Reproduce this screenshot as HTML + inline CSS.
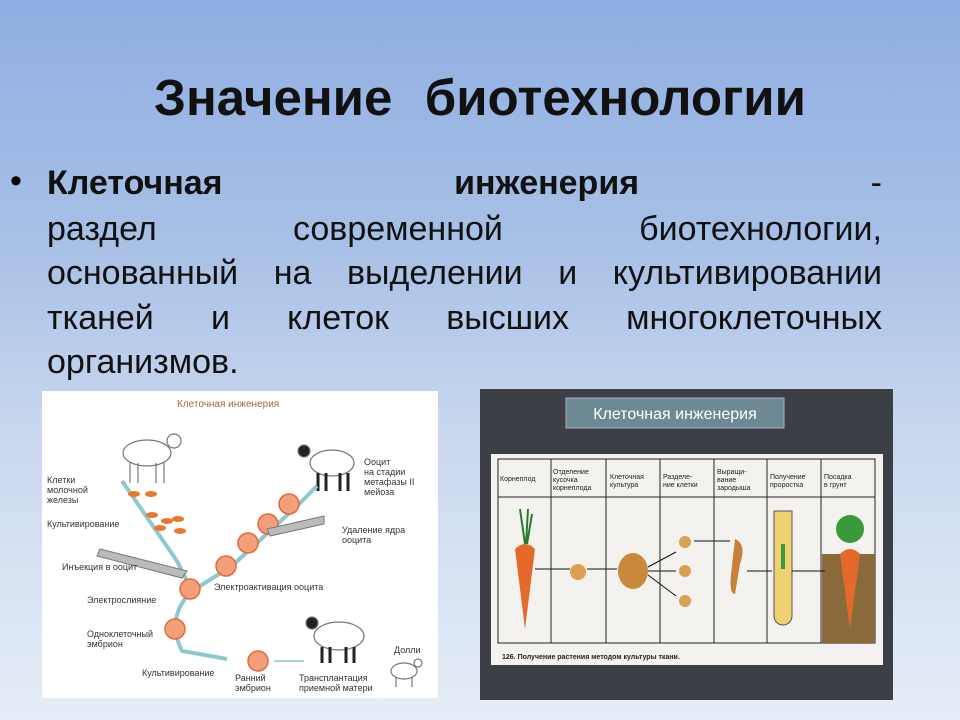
<!DOCTYPE html>
<html><head><meta charset="utf-8"><style>
body{margin:0;width:960px;height:720px;overflow:hidden;position:relative;
background:linear-gradient(180deg,#8eaee2 0%,#a9c1e6 35%,#c9d7ee 60%,#e6edf8 100%);
font-family:"Liberation Sans Narrow","Liberation Sans","DejaVu Sans Condensed",sans-serif;}
.t{position:absolute;left:0;width:960px;top:68px;text-align:center;font-size:51px;font-weight:bold;color:#111;word-spacing:2px}
.l{position:absolute;left:47px;width:835px;font-size:34px;color:#111;white-space:nowrap;line-height:40px}
.b{position:absolute;left:10px;top:162px;font-size:34px}
</style></head><body>
<div class="t">Значение&nbsp; биотехнологии</div>
<div class="b">•</div>
<div class="l" style="top:163px;display:flex;justify-content:space-between"><b>Клеточная</b><b>инженерия</b><span>-</span></div>
<div class="l" style="top:209px;display:flex;justify-content:space-between"><span>раздел</span><span>современной</span><span>биотехнологии,</span></div>
<div class="l" style="top:253px;display:flex;justify-content:space-between"><span>основанный</span><span>на</span><span>выделении</span><span>и</span><span>культивировании</span></div>
<div class="l" style="top:298px;display:flex;justify-content:space-between"><span>тканей</span><span>и</span><span>клеток</span><span>высших</span><span>многоклеточных</span></div>
<div class="l" style="top:342px">организмов.</div>

<svg style="position:absolute;left:42px;top:391px" width="396" height="307" viewBox="0 0 396 307" font-family="Liberation Sans, sans-serif" font-size="9" fill="#333">
<rect width="396" height="307" fill="#fff"/>
<text x="135" y="16" font-size="10" fill="#a06a3a">Клеточная инженерия</text>
<g stroke="#777" fill="#fff" stroke-width="1.2">
<ellipse cx="105" cy="62" rx="24" ry="13"/><circle cx="132" cy="50" r="7"/><path d="M88 72v20M96 72v20M114 72v20M122 72v20"/>
<ellipse cx="290" cy="72" rx="22" ry="13"/><circle cx="262" cy="60" r="6" fill="#222"/><path d="M276 82v18M284 82v18M298 82v18M306 82v18" stroke="#222" stroke-width="3"/>
<ellipse cx="297" cy="245" rx="25" ry="14"/><circle cx="270" cy="232" r="6" fill="#222"/><path d="M280 256v16M288 256v16M304 256v16M312 256v16" stroke="#222" stroke-width="3"/>
<ellipse cx="362" cy="280" rx="13" ry="8"/><circle cx="376" cy="272" r="4"/><path d="M354 286v10M370 286v10"/>
</g>
<path d="M80 90 L135 170 L150 200 L190 175 L255 115 L275 95" stroke="#8cc8d0" stroke-width="4" fill="none"/>
<path d="M145 205 Q125 230 140 260 L185 268" stroke="#8cc8d0" stroke-width="4" fill="none"/>
<path d="M232 270 H262" stroke="#8cc8d0" stroke-width="1.5"/>
<g fill="#f3a07a" stroke="#e06a40" stroke-width="1.5">
<circle cx="148" cy="198" r="10"/><circle cx="184" cy="175" r="10"/><circle cx="206" cy="152" r="10"/><circle cx="226" cy="133" r="10"/><circle cx="247" cy="113" r="10"/><circle cx="133" cy="238" r="10"/><circle cx="216" cy="270" r="10"/>
</g>
<g fill="#e8792c"><ellipse cx="92" cy="103" rx="6" ry="3"/><ellipse cx="109" cy="103" rx="6" ry="3"/><ellipse cx="110" cy="124" rx="6" ry="3"/><ellipse cx="125" cy="130" rx="6" ry="3"/><ellipse cx="118" cy="137" rx="6" ry="3"/><ellipse cx="136" cy="128" rx="6" ry="3"/><ellipse cx="138" cy="140" rx="6" ry="3"/></g>
<path d="M58 158 L145 180 L140 187 L55 165z" fill="#bbb" stroke="#777"/>
<path d="M225 138 L282 125 L282 133 L228 145z" fill="#bbb" stroke="#777"/>
<text x="5" y="92">Клетки</text><text x="5" y="102">молочной</text><text x="5" y="112">железы</text>
<text x="5" y="136">Культивирование</text><text x="20" y="179">Инъекция в ооцит</text>
<text x="45" y="212">Электрослияние</text><text x="172" y="199">Электроактивация ооцита</text>
<text x="45" y="246">Одноклеточный</text><text x="45" y="256">эмбрион</text>
<text x="100" y="285">Культивирование</text><text x="193" y="290">Ранний</text><text x="193" y="300">эмбрион</text>
<text x="257" y="290">Трансплантация</text><text x="257" y="300">приемной матери</text>
<text x="300" y="142">Удаление ядра</text><text x="300" y="152">ооцита</text>
<text x="322" y="74">Ооцит</text><text x="322" y="84">на стадии</text><text x="322" y="94">метафазы II</text><text x="322" y="104">мейоза</text>
<text x="352" y="262">Долли</text>
</svg>

<svg style="position:absolute;left:480px;top:389px" width="413" height="311" viewBox="0 0 413 311" font-family="Liberation Sans, sans-serif" font-size="7" fill="#222">
<rect width="413" height="311" fill="#3c3f46"/>
<rect x="86" y="9" width="218" height="30" fill="#6d8a94" stroke="#aac" />
<text x="195" y="30" text-anchor="middle" font-size="16" fill="#fff">Клеточная инженерия</text>
<rect x="11" y="65" width="392" height="211" fill="#f4f2ee"/>
<g stroke="#222" stroke-width="1" fill="none">
<rect x="18" y="70" width="377" height="184"/><line x1="18" y1="108" x2="395" y2="108"/>
<line x1="71" y1="70" x2="71" y2="254"/><line x1="126" y1="70" x2="126" y2="254"/><line x1="180" y1="70" x2="180" y2="254"/><line x1="234" y1="70" x2="234" y2="254"/><line x1="287" y1="70" x2="287" y2="254"/><line x1="341" y1="70" x2="341" y2="254"/>
</g>
<text x="20" y="92">Корнеплод</text><text x="73" y="85">Отделение</text><text x="73" y="93">кусочка</text><text x="73" y="101">корнеплода</text>
<text x="130" y="90">Клеточная</text><text x="130" y="98">культура</text><text x="183" y="90">Разделе-</text><text x="183" y="98">ние клетки</text>
<text x="237" y="85">Выращи-</text><text x="237" y="93">вание</text><text x="237" y="101">зародыша</text>
<text x="290" y="90">Получение</text><text x="290" y="98">проростка</text><text x="344" y="90">Посадка</text><text x="344" y="98">в грунт</text>
<path d="M35 160 Q45 150 55 160 L45 240z" fill="#e46a2c"/>
<path d="M40 120 l5 35 M48 120 l-2 35 M52 125 l-5 30" stroke="#2a7a2a" stroke-width="2"/>
<rect x="342" y="165" width="53" height="89" fill="#8a6a3a"/>
<path d="M360 165 Q370 155 380 165 L370 240z" fill="#e46a2c"/>
<circle cx="370" cy="140" r="14" fill="#3a9a3a"/>
<path d="M294 122 h18 v105 a9 9 0 0 1 -18 0z" fill="#f0d070" stroke="#555"/>
<path d="M303 155 v25" stroke="#3a9a3a" stroke-width="4"/>
<circle cx="98" cy="183" r="8" fill="#d9a050"/><ellipse cx="153" cy="182" rx="15" ry="18" fill="#c88a3a"/>
<circle cx="205" cy="153" r="6" fill="#d9a050"/><circle cx="205" cy="182" r="6" fill="#d9a050"/><circle cx="205" cy="212" r="6" fill="#d9a050"/>
<path d="M255 150 q12 5 5 25 l-5 30 q-6 0 -4 -20z" fill="#c8803a"/>
<g stroke="#111" stroke-width="1"><line x1="55" y1="180" x2="90" y2="180"/><line x1="107" y1="180" x2="137" y2="180"/><line x1="168" y1="178" x2="196" y2="163"/><line x1="168" y1="182" x2="196" y2="182"/><line x1="168" y1="186" x2="196" y2="207"/><line x1="214" y1="152" x2="250" y2="152"/><line x1="267" y1="182" x2="292" y2="182"/><line x1="312" y1="182" x2="345" y2="182"/></g>
<text x="22" y="270" font-weight="bold">126.   Получение растения методом культуры ткани.</text>
</svg>
</body></html>
